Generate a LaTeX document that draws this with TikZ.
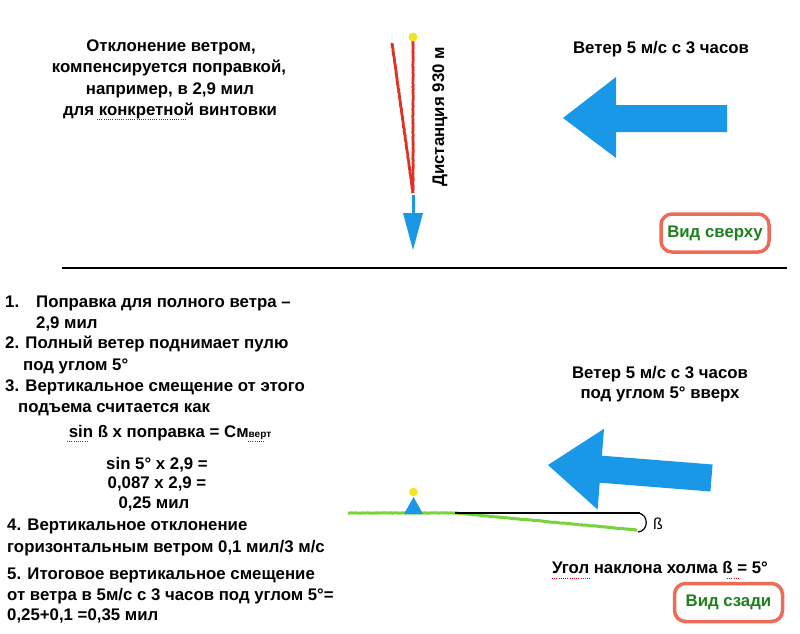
\documentclass[tikz,border=0pt]{standalone}
\usepackage{fontspec}
\setmainfont{Liberation Sans}
\usetikzlibrary{decorations.pathmorphing}
\definecolor{windblue}{RGB}{26,152,232}
\definecolor{trred}{RGB}{222,52,40}
\definecolor{hillgreen}{RGB}{120,212,60}
\definecolor{boxred}{RGB}{236,108,88}
\definecolor{labgreen}{RGB}{28,128,28}
\definecolor{dotyellow}{RGB}{240,228,40}
\begin{document}
\begin{tikzpicture}[x=1pt,y=-1pt,
  txt/.style={font=\fontsize{16.8}{21}\selectfont\bfseries, inner sep=0pt},
  lt/.style={txt, anchor=base west},
  ct/.style={txt, anchor=base},
  rough/.style={decorate, decoration={random steps, segment length=1.2pt, amplitude=0.25pt}},
  tracer/.style={trred, line width=2.8pt, rough},
  hill/.style={hillgreen, line width=3pt, rough},
  wind/.style={fill=windblue, draw=none},
  viewbox/.style={txt, text=labgreen, draw=boxred, line width=3.5pt, rounded corners=11pt,
    minimum width=108pt, minimum height=38pt},
  spell/.style={red!85!black, line width=0.9pt, dash pattern=on 1pt off 1.2pt}]
\useasboundingbox (0,0) rectangle (800,634);

% ---------- top view ----------
\node[ct] (n1) at (171,52) {Отклонение ветром,};
\node[ct] (n2) at (169,73) {компенсируется поправкой,};
\node[ct] (n3) at (170,94) {например, в 2,9 мил};
\node[ct] (n4) at (170,115) {для конкретной винтовки};
\draw[spell] (97,119) -- (187,119);

% tracer lines
\draw[tracer] (413,40) -- (413,193);
\draw[tracer] (392,43) -- (413,193);
\fill[dotyellow] (413,37) circle (4.5);
% small blue arrow
\draw[windblue, line width=3pt] (413,195) -- (413,215);
\fill[windblue] (403,213) -- (423,213) -- (413,250) -- cycle;
\node[txt, rotate=90] (dist) at (440,117) {Дистанция 930 м};

\node[ct] (w1) at (661,53) {Ветер 5 м/с с 3 часов};
\fill[wind] (563,118) -- (616,77) -- (616,105) -- (727,105) -- (727,132) -- (616,132) -- (616,158) -- cycle;

\node[viewbox] (vb1) at (715,233) {Вид сверху};

% separator
\draw[line width=1.2pt] (62,268) -- (787,268);

% ---------- rear view: list ----------
\node[lt] (l1a) at (5,307) {1.};
\node[lt] (l1) at (36,307) {Поправка для полного ветра –};
\node[lt] (l2) at (36,328) {2,9 мил};
\node[lt] (l3) at (5,348) {2. Полный ветер поднимает пулю};
\node[lt] (l4) at (23,370) {под углом 5°};
\node[lt] (l5) at (5,391) {3. Вертикальное смещение от этого};
\node[lt] (l6) at (18,412) {подъема считается как};
\node[ct] (l7) at (170,437) {sin ß x поправка = См{\fontsize{10}{10}\selectfont верт}};
\draw[spell] (67,441) -- (89,441);
\draw[spell] (248,441) -- (264,441);
\node[ct] (l8) at (157,469) {sin 5° x 2,9 =};
\node[ct] (l9) at (157,488) {0,087 x 2,9 =};
\node[ct] (l10) at (154,508) {0,25 мил};
\node[lt] (l11) at (7,530) {4. Вертикальное отклонение};
\node[lt] (l12) at (7,552) {горизонтальным ветром 0,1 мил/3 м/с};
\node[lt] (l13) at (7,579) {5. Итоговое вертикальное смещение};
\node[lt] (l14) at (7,600) {от ветра в 5м/с с 3 часов под углом 5°=};
\node[lt] (l15) at (7,620) {0,25+0,1 =0,35 мил};

% ---------- rear view: hill ----------
\draw[hill] (348,513) -- (455,513) -- (637,530);
\draw[line width=1.1pt] (455,513) -- (640,513);
\draw[line width=1.2pt] (638,513) .. controls (649,514) and (649,531) .. (638,532);
\node[txt, font=\fontsize{16}{20}\selectfont, anchor=base west] (beta) at (653,529) {ß};
\fill[windblue] (404,514) -- (423,514) -- (413.5,497) -- cycle;
\fill[dotyellow] (413.5,492) circle (4.3);

\node[ct] (w2) at (660,378) {Ветер 5 м/с с 3 часов};
\node[ct] (w3) at (660,398) {под углом 5° вверх};
\fill[wind] (548,465) -- (604,428.8) -- (601.9,455.7) -- (712.6,464.5) -- (710.4,491.5) -- (599.7,482.7) -- (597.6,509.6) -- cycle;

\node[ct] (hl) at (660,573) {Угол наклона холма ß = 5°};
\draw[spell] (552,578) -- (590,578);
\draw[spell] (727,578) -- (740,578);

\node[viewbox] (vb2) at (728.5,602.5) {Вид сзади};
\end{tikzpicture}
\end{document}
